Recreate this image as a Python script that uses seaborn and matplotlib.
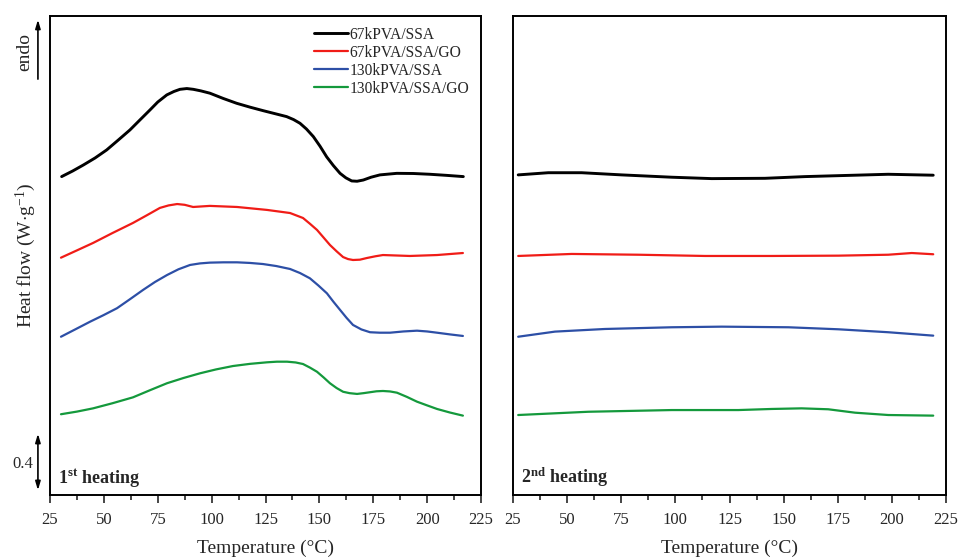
import numpy as np
import pandas as pd
import matplotlib
matplotlib.use("Agg")
import matplotlib.pyplot as plt
import seaborn as sns

# ---------------- data (heat flow in W/g with offsets) -------------
samples = ["67kPVA/SSA", "67kPVA/SSA/GO", "130kPVA/SSA", "130kPVA/SSA/GO"]
colors = ["#000000", "#f01c17", "#2d4fa6", "#14993c"]

# 1st heating
t1_black = [30.4, 35.5, 40.5, 45.9, 51.3, 56.7, 62.1, 66.7, 71.4, 75.0, 79.2, 82.5, 85.3, 88.5,
            91.5, 95.0, 99.2, 105.4, 111.6, 117.8, 124.0, 129.4, 134.8, 138.0, 141.0, 144.0,
            147.2, 150.3, 153.4, 156.5, 159.6, 162.3, 165.0, 167.5, 170.4, 174.0, 178.1, 185.9,
            193.6, 201.3, 209.0, 216.8]
h1_black = [2.054, 2.090, 2.129, 2.174, 2.226, 2.290, 2.355, 2.419, 2.484, 2.535, 2.581, 2.603,
            2.617, 2.622, 2.617, 2.607, 2.592, 2.558, 2.527, 2.502, 2.479, 2.460, 2.441, 2.422,
            2.398, 2.361, 2.312, 2.250, 2.181, 2.125, 2.075, 2.046, 2.026, 2.024, 2.032, 2.050,
            2.065, 2.075, 2.074, 2.069, 2.062, 2.054]

t1_red = [30.1, 37.5, 45.0, 54.0, 63.5, 70.0, 76.0, 80.0, 84.0, 87.5, 91.4, 99.2, 111.8, 125.7,
          136.4, 142.4, 145.6, 148.9, 152.0, 154.9, 158.0, 161.0, 163.3, 165.6, 168.8, 172.1,
          176.0, 179.5, 192.0, 204.6, 216.6]
h1_red = [1.531, 1.578, 1.626, 1.690, 1.755, 1.805, 1.852, 1.868, 1.877, 1.872, 1.858, 1.865,
          1.858, 1.839, 1.819, 1.787, 1.750, 1.710, 1.660, 1.613, 1.572, 1.535, 1.522, 1.516,
          1.518, 1.529, 1.540, 1.548, 1.542, 1.548, 1.561]

t1_blue = [30.1, 36.8, 43.6, 49.8, 56.1, 62.0, 68.2, 73.7, 79.3, 84.6, 90.0, 94.6, 99.2, 105.5,
           111.8, 117.8, 123.8, 130.0, 136.4, 141.0, 145.6, 149.5, 153.5, 156.5, 159.6, 162.6,
           165.6, 169.5, 173.5, 178.0, 182.8, 189.0, 195.3, 200.0, 204.6, 210.6, 216.6]
h1_blue = [1.021, 1.069, 1.118, 1.160, 1.205, 1.262, 1.323, 1.374, 1.419, 1.456, 1.484, 1.494,
           1.499, 1.501, 1.501, 1.497, 1.490, 1.477, 1.458, 1.432, 1.398, 1.352, 1.301, 1.247,
           1.194, 1.143, 1.097, 1.068, 1.050, 1.047, 1.047, 1.055, 1.060, 1.055, 1.047, 1.036,
           1.026]

t1_green = [30.1, 37.5, 45.0, 54.0, 63.5, 71.4, 79.3, 87.0, 94.6, 102.0, 109.9, 117.8, 125.7,
            130.3, 135.0, 139.0, 142.4, 145.6, 148.9, 152.0, 154.9, 158.0, 161.0, 164.0, 167.5,
            170.5, 173.5, 176.5, 179.5, 182.8, 186.0, 190.6, 195.3, 200.0, 204.6, 210.6, 216.6]
h1_green = [0.521, 0.538, 0.559, 0.592, 0.630, 0.676, 0.721, 0.755, 0.785, 0.810, 0.832, 0.846,
            0.856, 0.860, 0.860, 0.855, 0.845, 0.822, 0.795, 0.758, 0.721, 0.690, 0.666, 0.657,
            0.652, 0.657, 0.663, 0.669, 0.671, 0.668, 0.660, 0.633, 0.602, 0.578, 0.555, 0.532,
            0.512]

# 2nd heating
t2_black = [27.4, 41.3, 56.7, 75.2, 98.3, 116.8, 141.4, 159.9, 183.0, 198.3, 219.1]
h2_black = [2.065, 2.079, 2.079, 2.065, 2.050, 2.041, 2.043, 2.054, 2.063, 2.069, 2.063]

t2_red = [27.4, 52.1, 82.9, 113.7, 144.5, 175.3, 198.3, 209.2, 219.1]
h2_red = [1.542, 1.555, 1.550, 1.542, 1.542, 1.544, 1.550, 1.561, 1.553]

t2_blue = [27.4, 44.4, 67.5, 98.3, 121.4, 152.2, 175.3, 198.3, 219.1]
h2_blue = [1.021, 1.054, 1.071, 1.082, 1.086, 1.082, 1.069, 1.050, 1.028]

t2_green = [27.4, 59.8, 98.3, 129.1, 144.5, 158.3, 170.6, 183.0, 198.3, 219.1]
h2_green = [0.516, 0.537, 0.548, 0.548, 0.555, 0.559, 0.553, 0.531, 0.516, 0.512]

xticks = [25, 50, 75, 100, 125, 150, 175, 200, 225]
scale_value = 0.4

# ---------------- style -------------
sns.set_style("ticks")
plt.rcParams["font.family"] = ["Liberation Serif", "DejaVu Serif"]
plt.rcParams["mathtext.fontset"] = "custom"
plt.rcParams["mathtext.rm"] = "Liberation Serif"
plt.rcParams["mathtext.it"] = "Liberation Serif:italic"
plt.rcParams["mathtext.bf"] = "Liberation Serif:bold"

fig = plt.figure(figsize=(9.59, 5.57), dpi=100)
W, H = 959, 557
ax1 = fig.add_axes([50 / W, (H - 495) / H, 431 / W, 479 / H])
ax2 = fig.add_axes([513 / W, (H - 495) / H, 433 / W, 479 / H])

series1 = [(t1_black, h1_black), (t1_red, h1_red), (t1_blue, h1_blue), (t1_green, h1_green)]
series2 = [(t2_black, h2_black), (t2_red, h2_red), (t2_blue, h2_blue), (t2_green, h2_green)]
widths = [2.1, 1.6, 1.6, 1.6]

for ax, series in ((ax1, series1), (ax2, series2)):
    for name, col, lw, (t, h) in zip(samples, colors, widths, series):
        df = pd.DataFrame({"T": t, "H": h})
        sns.lineplot(data=df, x="T", y="H", ax=ax, color=col, lw=lw, sort=False,
                     label=name, legend=False, solid_joinstyle="round", solid_capstyle="round")
    ax.set_xlim(25, 225)
    ax.set_ylim(0, 3.09)
    ax.set_xticks(xticks)
    ax.set_xticks(np.arange(37.5, 225, 25), minor=True)
    ax.set_yticks([])
    ax.tick_params(axis="x", which="major", direction="out", length=6, width=1.2,
                   labelsize=12, pad=6, bottom=True, top=False)
    ax.tick_params(axis="x", which="minor", direction="out", length=3.5, width=1.2,
                   bottom=True, top=False)
    for s in ax.spines.values():
        s.set_linewidth(1.4)
        s.set_color("black")
    ax.set_xlabel("Temperature (°C)", fontsize=14, labelpad=9)
    ax.set_ylabel("")

ax1.set_ylabel(r"Heat flow (W$\cdot$g$^{-1}$)", fontsize=14, labelpad=9)

handles = ax1.get_lines()
leg = ax1.legend(handles=handles, labels=samples, loc="upper left",
                 bbox_to_anchor=(0.612, 0.978), frameon=False, fontsize=11.2,
                 handlelength=2.2, handletextpad=0.12, labelspacing=0.13,
                 borderpad=0, borderaxespad=0)

ax1.text(0.018, 0.012, r"$\mathbf{1^{st}}$ heating", transform=ax1.transAxes,
         fontsize=13, fontweight="bold", ha="left", va="bottom")
ax2.text(0.018, 0.012, r"$\mathbf{2^{nd}}$ heating", transform=ax2.transAxes,
         fontsize=13, fontweight="bold", ha="left", va="bottom")

# endo arrow
tr = ax1.get_yaxis_transform()
ax1.annotate("", xy=(-0.028, 3.084), xytext=(-0.028, 2.665), xycoords=tr, textcoords=tr,
             annotation_clip=False,
             arrowprops=dict(arrowstyle="-|>,head_length=0.5,head_width=0.15", color="black", lw=1.2))
ax1.text(-0.058, 2.86, "endo", transform=tr, rotation=90, ha="center", va="center", fontsize=14)

# scale bar 0.4
y0 = 0.013
ax1.annotate("", xy=(-0.028, y0 + scale_value), xytext=(-0.028, y0), xycoords=tr, textcoords=tr,
             annotation_clip=False,
             arrowprops=dict(arrowstyle="<|-|>,head_length=0.5,head_width=0.15", color="black", lw=1.2))
ax1.text(-0.063, y0 + scale_value / 2 - 0.01, f"{scale_value}", transform=tr, ha="center",
         va="center", fontsize=12)

fig.savefig("out.png", dpi=100)
